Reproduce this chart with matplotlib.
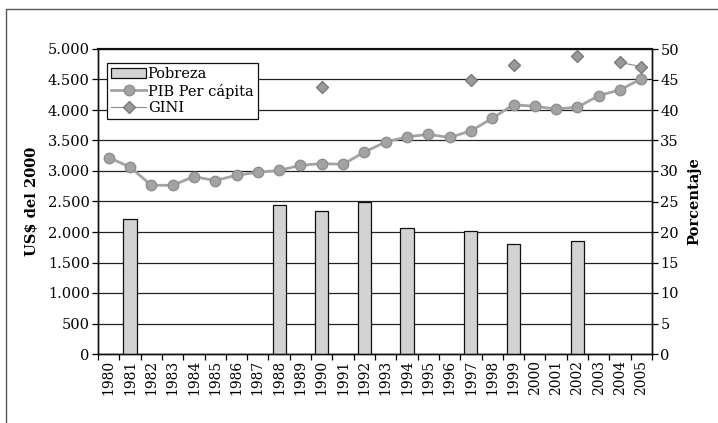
import numpy as np
import matplotlib.pyplot as plt
from matplotlib.patches import Rectangle
from matplotlib.ticker import FuncFormatter, FixedLocator

years = list(range(1980, 2006))

pib = [3220, 3066, 2766, 2766, 2908, 2843, 2930, 2979, 3010, 3093,
       3121, 3110, 3311, 3475, 3560, 3600, 3550, 3658, 3863, 4087,
       4061, 4016, 4045, 4236, 4330, 4512]

nan = np.nan
pobreza = [nan, 22.1, nan, nan, nan, nan, nan, nan, 24.4, nan,
           23.5, nan, 24.9, nan, 20.7, nan, nan, 20.2, nan, 18.1,
           nan, nan, 18.5, nan, nan, nan]

gini = [nan, nan, nan, nan, nan, nan, nan, nan, nan, nan,
        43.8, nan, nan, nan, nan, nan, nan, 45.0, nan, 47.3,
        nan, nan, 48.9, nan, 47.8, 47.1]

plt.rcParams["font.family"] = "DejaVu Serif"

fig = plt.figure(figsize=(7.18, 4.23), dpi=100)
ax = fig.add_axes([98 / 718, 1 - 354 / 423, 554 / 718, 305 / 423])
ax2 = ax.twinx()

x = np.arange(len(years))

# horizontal grid on the left axis, behind the bars
ax.set_ylim(0, 5000)
ax.set_yticks(np.arange(0, 5001, 500))
ax.yaxis.set_major_formatter(FuncFormatter(lambda v, p: f"{int(v):,}".replace(",", ".")))
ax.grid(axis="y", color="#222222", linewidth=0.9)
ax.set_axisbelow(True)

pib_line, = ax.plot(x, pib, color="#a3a3a3", linewidth=2.0, marker="o",
                    markersize=7.5, markerfacecolor="#a3a3a3", markeredgecolor="#8f8f8f",
                    zorder=3)

ax2.set_ylim(0, 50)
ax2.set_yticks(np.arange(0, 51, 5))
bars = ax2.bar(x, pobreza, width=0.62, color="#d3d3d3", edgecolor="#111111",
               linewidth=0.9, zorder=2)
gini_line, = ax2.plot(x, gini, color="#8c8c8c", linewidth=0.8, marker="D",
                      markersize=6, markerfacecolor="#9a9a9a", markeredgecolor="#7a7a7a",
                      zorder=3)

ax.set_xlim(-0.5, len(years) - 0.5)
ax.set_xticks(x)
ax.set_xticklabels([str(y) for y in years], rotation=90, fontsize=10)
ax.tick_params(axis="x", length=0, pad=4)
ax.xaxis.set_minor_locator(FixedLocator(np.arange(-0.5, len(years), 1.0)))
ax.tick_params(axis="x", which="minor", length=4, direction="out", width=0.9)

ax.tick_params(axis="y", length=4, width=0.9, labelsize=10.5, pad=2)
ax2.tick_params(axis="y", length=4, width=0.9, labelsize=10.5, pad=2)

for a in (ax, ax2):
    for s in a.spines.values():
        s.set_color("#111111")
        s.set_linewidth(1.0)
    a.spines["top"].set_linewidth(1.5)

ax.set_ylabel("US$ del 2000", fontweight="bold", fontsize=10.5, labelpad=6)
ax2.set_ylabel("Porcentaje", fontweight="bold", fontsize=10.5, labelpad=6)

leg = ax2.legend([bars, pib_line, gini_line], ["Pobreza", "PIB Per cápita", "GINI"],
                 loc="upper left", bbox_to_anchor=(0.016, 0.954), borderaxespad=0,
                 fancybox=False, framealpha=1, edgecolor="#111111", fontsize=10.5,
                 handlelength=2.4, handletextpad=0.1, labelspacing=0.15,
                 borderpad=0.3)
leg.get_frame().set_linewidth(0.9)

# outer frame of the figure
fig.patches.append(Rectangle((6 / 718, -0.1), 1.0, 1.1 - 9 / 423 + 0.0,
                             transform=fig.transFigure, fill=False,
                             edgecolor="#555555", linewidth=1.0))

fig.savefig("out.png", dpi=100)
